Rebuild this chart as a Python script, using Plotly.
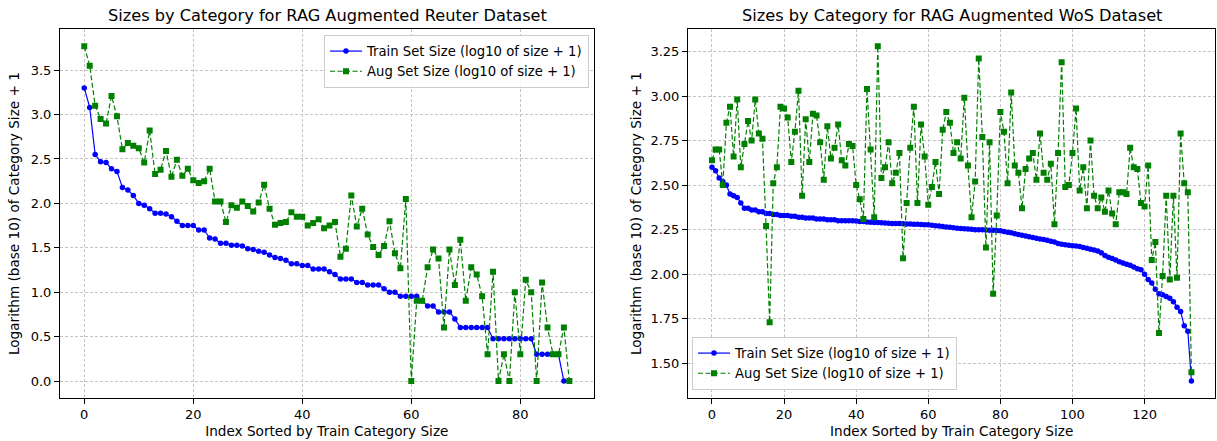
import plotly.graph_objects as go

# ---- Data: Reuter (left) ----
reuter_train = [3.30, 3.08, 2.55, 2.47, 2.46, 2.39, 2.36, 2.18, 2.15, 2.09,
                2.00, 1.98, 1.94, 1.89, 1.89, 1.88, 1.85, 1.80, 1.75, 1.75,
                1.75, 1.70, 1.70, 1.61, 1.60, 1.55, 1.55, 1.53, 1.53, 1.52,
                1.49, 1.48, 1.46, 1.45, 1.42, 1.39, 1.38, 1.36, 1.32, 1.32,
                1.30, 1.30, 1.26, 1.26, 1.26, 1.23, 1.20, 1.15, 1.15, 1.15,
                1.11, 1.11, 1.08, 1.08, 1.08, 1.04, 1.00, 1.00, 0.954, 0.954,
                0.954, 0.954, 0.903, 0.845, 0.845, 0.778, 0.778, 0.778, 0.699, 0.602,
                0.602, 0.602, 0.602, 0.602, 0.602, 0.477, 0.477, 0.477, 0.477, 0.477,
                0.477, 0.477, 0.477, 0.301, 0.301, 0.301, 0.301, 0.301, 0.0, 0.0]
reuter_aug = [3.77, 3.55, 3.10, 2.95, 2.90, 3.21, 2.98, 2.61, 2.68, 2.65,
              2.62, 2.46, 2.82, 2.33, 2.38, 2.59, 2.30, 2.49, 2.31, 2.39,
              2.26, 2.23, 2.25, 2.39, 2.02, 2.02, 1.79, 1.98, 1.95, 2.02,
              1.97, 1.91, 2.01, 2.21, 1.94, 1.76, 1.78, 1.79, 1.90, 1.85,
              1.85, 1.75, 1.78, 1.82, 1.72, 1.75, 1.79, 1.40, 1.49, 2.09,
              1.74, 1.94, 1.65, 1.51, 1.42, 1.52, 1.80, 1.44, 1.27, 2.05,
              0.0, 0.903, 0.903, 1.28, 1.48, 1.38, 0.602, 1.48, 1.08, 1.59,
              0.903, 1.28, 1.20, 0.954, 0.301, 1.23, 0.0, 0.301, 0.0, 1.00,
              0.301, 1.14, 1.00, 0.0, 1.11, 0.602, 0.301, 0.301, 0.602, 0.0]

# ---- Data: WoS (right) ----
wos_train = [2.60, 2.58, 2.54, 2.52, 2.50, 2.45, 2.44, 2.43, 2.40, 2.37,
             2.37, 2.36, 2.36, 2.35, 2.35, 2.34, 2.34, 2.335, 2.335, 2.33,
             2.33, 2.33, 2.325, 2.325, 2.32, 2.32, 2.315, 2.315, 2.315, 2.31,
             2.31, 2.31, 2.305, 2.305, 2.305, 2.30, 2.30, 2.30, 2.30, 2.30,
             2.298, 2.296, 2.295, 2.293, 2.292, 2.29, 2.29, 2.288, 2.287, 2.286,
             2.285, 2.285, 2.284, 2.283, 2.282, 2.281, 2.28, 2.28, 2.279, 2.278,
             2.277, 2.275, 2.272, 2.27, 2.268, 2.265, 2.263, 2.26, 2.258, 2.257,
             2.255, 2.253, 2.252, 2.25, 2.25, 2.249, 2.248, 2.247, 2.246, 2.245,
             2.244, 2.24, 2.236, 2.232, 2.227, 2.222, 2.218, 2.214, 2.21, 2.206,
             2.202, 2.198, 2.194, 2.19, 2.185, 2.18, 2.172, 2.168, 2.165, 2.163,
             2.16, 2.158, 2.155, 2.15, 2.145, 2.14, 2.135, 2.13, 2.12, 2.105,
             2.095, 2.088, 2.08, 2.07, 2.062, 2.055, 2.05, 2.04, 2.03, 2.025,
             2.00, 1.97, 1.95, 1.915, 1.89, 1.885, 1.875, 1.865, 1.845, 1.815,
             1.79, 1.71, 1.68, 1.40]
wos_aug = [2.64, 2.70, 2.70, 2.50, 2.85, 2.94, 2.66, 2.98, 2.60, 2.73,
           2.86, 2.75, 2.98, 2.79, 2.76, 2.27, 1.73, 2.51, 2.60, 2.94,
           2.93, 2.88, 2.63, 2.80, 3.03, 2.44, 2.87, 2.63, 2.90, 2.89,
           2.74, 2.53, 2.83, 2.65, 2.71, 2.84, 2.64, 2.61, 2.73, 2.72,
           2.50, 2.42, 2.31, 3.04, 2.70, 2.32, 3.28, 2.54, 2.60, 2.74,
           2.51, 2.57, 2.68, 2.09, 2.40, 2.71, 2.94, 2.40, 2.84, 2.66,
           2.39, 2.49, 2.63, 2.45, 2.81, 2.91, 2.85, 2.68, 2.74, 2.65,
           2.99, 2.61, 2.32, 2.52, 3.21, 2.77, 2.15, 2.74, 1.89, 2.33,
           2.91, 2.80, 2.51, 3.02, 2.61, 2.57, 2.37, 2.59, 2.65, 2.68,
           2.53, 2.79, 2.57, 2.53, 2.62, 2.28, 2.68, 3.19, 2.49, 2.50,
           2.68, 2.93, 2.47, 2.60, 2.37, 2.75, 2.44, 2.37, 2.43, 2.35,
           2.47, 2.34, 2.28, 2.46, 2.46, 2.45, 2.71, 2.60, 2.59, 2.40,
           2.38, 2.61, 2.08, 2.18, 1.67, 1.99, 2.44, 1.97, 2.44, 1.98,
           2.79, 2.51, 2.46, 1.45]

titles = ["Sizes by Category for RAG Augmented Reuter Dataset",
          "Sizes by Category for RAG Augmented WoS Dataset"]
train_name = "Train Set Size (log10 of size + 1)"
aug_name = "Aug Set Size (log10 of size + 1)"
xlabel = "Index Sorted by Train Category Size"
ylabel = "Logarithm (base 10) of Category Size + 1"

FONT = "DejaVu Sans"
W, H = 1217, 441

fig = go.Figure()

def add_pair(train, aug, xa, ya, legend):
    xs = list(range(len(train)))
    fig.add_trace(go.Scatter(
        x=xs, y=train, mode="lines+markers", name=train_name,
        line=dict(color="blue", width=1.2),
        marker=dict(symbol="circle", size=5.5, color="blue"),
        xaxis=xa, yaxis=ya, legend=legend))
    fig.add_trace(go.Scatter(
        x=xs, y=aug, mode="lines+markers", name=aug_name,
        line=dict(color="green", width=1.2, dash="5px,2.5px"),
        marker=dict(symbol="square", size=6, color="green"),
        xaxis=xa, yaxis=ya, legend=legend))

add_pair(reuter_train, reuter_aug, "x", "y", "legend")
add_pair(wos_train, wos_aug, "x2", "y2", "legend2")

def px_x(p):
    return p / W

def px_y(p):
    return (H - p) / H

LABEL = 13.6
axis_common = dict(
    showline=True, mirror=True, linecolor="black", linewidth=1,
    ticks="outside", ticklen=5, tickwidth=1, tickcolor="black",
    showgrid=True, gridcolor="#c4c4c4", gridwidth=0.6, griddash="3px,2px",
    zeroline=False, automargin=False,
    tickfont=dict(family=FONT, size=13, color="black"),
)

fig.update_layout(
    width=W, height=H,
    margin=dict(l=0, r=0, t=0, b=0),
    paper_bgcolor="white", plot_bgcolor="white",
    font=dict(family=FONT, color="black"),
    xaxis=dict(axis_common, domain=[px_x(60), px_x(593.6)],
               range=[-4.45, 93.45], tickvals=[0, 20, 40, 60, 80],
               title=dict(text=xlabel, font=dict(family=FONT, size=LABEL), standoff=5),
               anchor="y"),
    yaxis=dict(axis_common, domain=[px_y(397.8), px_y(29.4)],
               range=[-0.1885, 3.9585], tickvals=[0, 0.5, 1.0, 1.5, 2.0, 2.5, 3.0, 3.5],
               tickformat=".1f",
               title=dict(text=ylabel, font=dict(family=FONT, size=LABEL), standoff=7),
               anchor="x"),
    xaxis2=dict(axis_common, domain=[px_x(688), px_x(1215.4)],
                range=[-6.65, 139.65], tickvals=[0, 20, 40, 60, 80, 100, 120],
                title=dict(text=xlabel, font=dict(family=FONT, size=LABEL), standoff=5),
                anchor="y2"),
    yaxis2=dict(axis_common, domain=[px_y(397.8), px_y(29.4)],
                range=[1.306, 3.374],
                tickvals=[1.5, 1.75, 2.0, 2.25, 2.5, 2.75, 3.0, 3.25],
                tickformat=".2f",
                title=dict(text=ylabel, font=dict(family=FONT, size=LABEL), standoff=5),
                anchor="x2"),
    legend=dict(x=px_x(589), y=px_y(35), xanchor="right", yanchor="top",
                bgcolor="rgba(255,255,255,0.85)", bordercolor="#cccccc", borderwidth=1,
                font=dict(family=FONT, size=13.2), itemwidth=32, tracegroupgap=0),
    legend2=dict(x=px_x(692), y=px_y(390), xanchor="left", yanchor="bottom",
                 bgcolor="rgba(255,255,255,0.85)", bordercolor="#cccccc", borderwidth=1,
                 font=dict(family=FONT, size=13.2), itemwidth=32, tracegroupgap=0),
    annotations=[
        dict(text=titles[0], x=px_x(327), y=px_y(16), xref="paper", yref="paper",
             xanchor="center", yanchor="middle", showarrow=False,
             font=dict(family=FONT, size=16.2, color="black")),
        dict(text=titles[1], x=px_x(952), y=px_y(16), xref="paper", yref="paper",
             xanchor="center", yanchor="middle", showarrow=False,
             font=dict(family=FONT, size=16.2, color="black")),
    ],
)

fig.write_html("out.html", config={"displayModeBar": False},
               post_script="document.body.style.margin='0';document.body.style.padding='0';")
